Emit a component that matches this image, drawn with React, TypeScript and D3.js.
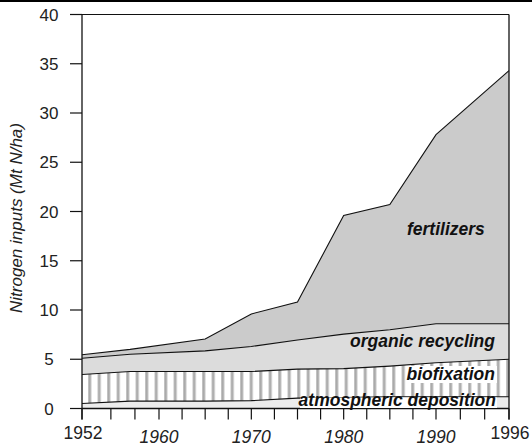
import React from "react";
import * as d3 from "d3";

const years = [1952, 1957, 1965, 1970, 1975, 1980, 1985, 1990, 1996];
const atmosphericDeposition = [0.5, 0.75, 0.75, 0.8, 1.05, 1.1, 1.2, 1.2, 1.2];
const biofixation = [2.95, 3.0, 3.0, 2.95, 2.95, 2.95, 3.1, 3.45, 3.8];
const organicRecycling = [1.65, 1.75, 2.1, 2.55, 2.95, 3.5, 3.7, 3.95, 3.6];
const fertilizers = [0.35, 0.5, 1.2, 3.3, 3.85, 12.05, 12.7, 19.2, 25.7];

const seriesKeys = ["atmospheric", "biofixation", "organic", "fertilizers"];
const yTicks = [0, 5, 10, 15, 20, 25, 30, 35, 40];
const xTickMarks = [1952, 1955, 1957.5, 1960, 1962.5, 1965, 1967.5, 1970, 1972.5, 1975, 1977.5, 1980, 1982.5, 1985, 1987.5, 1990, 1992, 1994, 1996];
const xLabelYears = [1952, 1960, 1970, 1980, 1990, 1996];

const W = 532;
const H = 446;
const L = 82;
const R = 509;
const T = 14.5;
const B = 408.5;

export default function App() {
  const x = d3
    .scaleLinear()
    .domain([1952, 1960, 1990, 1996])
    .range([L, L + 77, L + 354, R]);
  const y = d3.scaleLinear().domain([0, 40]).range([B, T]);

  const rows = years.map((yr, i) => ({
    year: yr,
    atmospheric: atmosphericDeposition[i],
    biofixation: biofixation[i],
    organic: organicRecycling[i],
    fertilizers: fertilizers[i],
  }));
  const stacked = d3.stack<any>().keys(seriesKeys)(rows);

  const area = d3
    .area<any>()
    .x((d) => x(d.data.year))
    .y0((d) => y(d[0]))
    .y1((d) => y(d[1]));
  const topLine = d3
    .line<any>()
    .x((d) => x(d.data.year))
    .y((d) => y(d[1]));

  const fills: Record<string, string> = {
    atmospheric: "#ececec",
    biofixation: "url(#stripes)",
    organic: "#dcdcdc",
    fertilizers: "#cbcbcb",
  };

  const font = "'Liberation Sans', Arial, sans-serif";
  const labelStyle = {
    fontFamily: font,
    fontSize: 17.5,
    fontWeight: 700,
    fontStyle: "italic" as const,
    fill: "#111",
  };

  return (
    <svg
      width={W}
      height={H}
      style={{ position: "absolute", left: 0, top: 0, background: "#fff" }}
    >
      <defs>
        <pattern id="stripes" patternUnits="userSpaceOnUse" width={9.5} height={10} x={88}>
          <rect x={0} y={0} width={9.5} height={10} fill="#ffffff" />
          <rect x={0} y={0} width={3.4} height={10} fill="#c4c4c4" />
          <rect x={0.9} y={0} width={1.6} height={10} fill="#a9a9a9" />
        </pattern>
      </defs>
      <rect x={0} y={0} width={W} height={2} fill="#000" />

      {stacked.map((s: any) => (
        <path key={s.key} d={area(s) || ""} fill={fills[s.key]} stroke="none" />
      ))}
      {stacked.map((s: any) => (
        <path key={s.key + "-l"} d={topLine(s) || ""} fill="none" stroke="#111" strokeWidth={1.1} />
      ))}

      {/* frame */}
      <line x1={L} x2={L} y1={T} y2={B + 11} stroke="#111" strokeWidth={1.3} />
      <line x1={R} x2={R} y1={T} y2={B + 11} stroke="#111" strokeWidth={1.3} />
      <line x1={L} x2={R} y1={T} y2={T} stroke="#111" strokeWidth={1.2} />
      <line x1={L} x2={R} y1={B} y2={B} stroke="#111" strokeWidth={1.3} />

      {/* y ticks */}
      {yTicks.map((v) => (
        <g key={"y" + v}>
          <line x1={L - 12} x2={L} y1={y(v)} y2={y(v)} stroke="#111" strokeWidth={1.2} />
          <text
            x={49}
            y={y(v)}
            dy="0.36em"
            textAnchor="middle"
            style={{ fontFamily: font, fontSize: 17, fill: "#222" }}
          >
            {v}
          </text>
        </g>
      ))}

      {/* x ticks */}
      {xTickMarks.map((v) => (
        <line key={"x" + v} x1={x(v)} x2={x(v)} y1={B} y2={B + 11} stroke="#111" strokeWidth={1.2} />
      ))}
      {xLabelYears.map((v, i) => {
        const end = i === 0 || i === xLabelYears.length - 1;
        return (
          <text
            key={"xl" + v}
            x={x(v) + (end ? 1 : 0)}
            y={end ? 438.5 : 443}
            textAnchor="middle"
            style={{
              fontFamily: font,
              fontSize: 17.5,
              fontStyle: end ? "normal" : "italic",
              fill: "#222",
            }}
          >
            {v}
          </text>
        );
      })}

      {/* axis title */}
      <text
        transform={`translate(22, 218) rotate(-90)`}
        textAnchor="middle"
        style={{ fontFamily: font, fontSize: 17, fontStyle: "italic", fill: "#222" }}
      >
        Nitrogen inputs (Mt N/ha)
      </text>

      {/* layer labels */}
      <text x={407} y={235} style={labelStyle}>
        fertilizers
      </text>
      <text x={495} y={347} textAnchor="end" style={labelStyle}>
        organic recycling
      </text>
      <rect x={406} y={366} width={91} height={17} fill="#fff" />
      <text x={495} y={380} textAnchor="end" style={labelStyle}>
        biofixation
      </text>
      <rect x={300} y={397.5} width={197} height={10.5} fill="#fff" />
      <text x={496} y={406} textAnchor="end" style={labelStyle}>
        atmospheric deposition
      </text>
    </svg>
  );
}
